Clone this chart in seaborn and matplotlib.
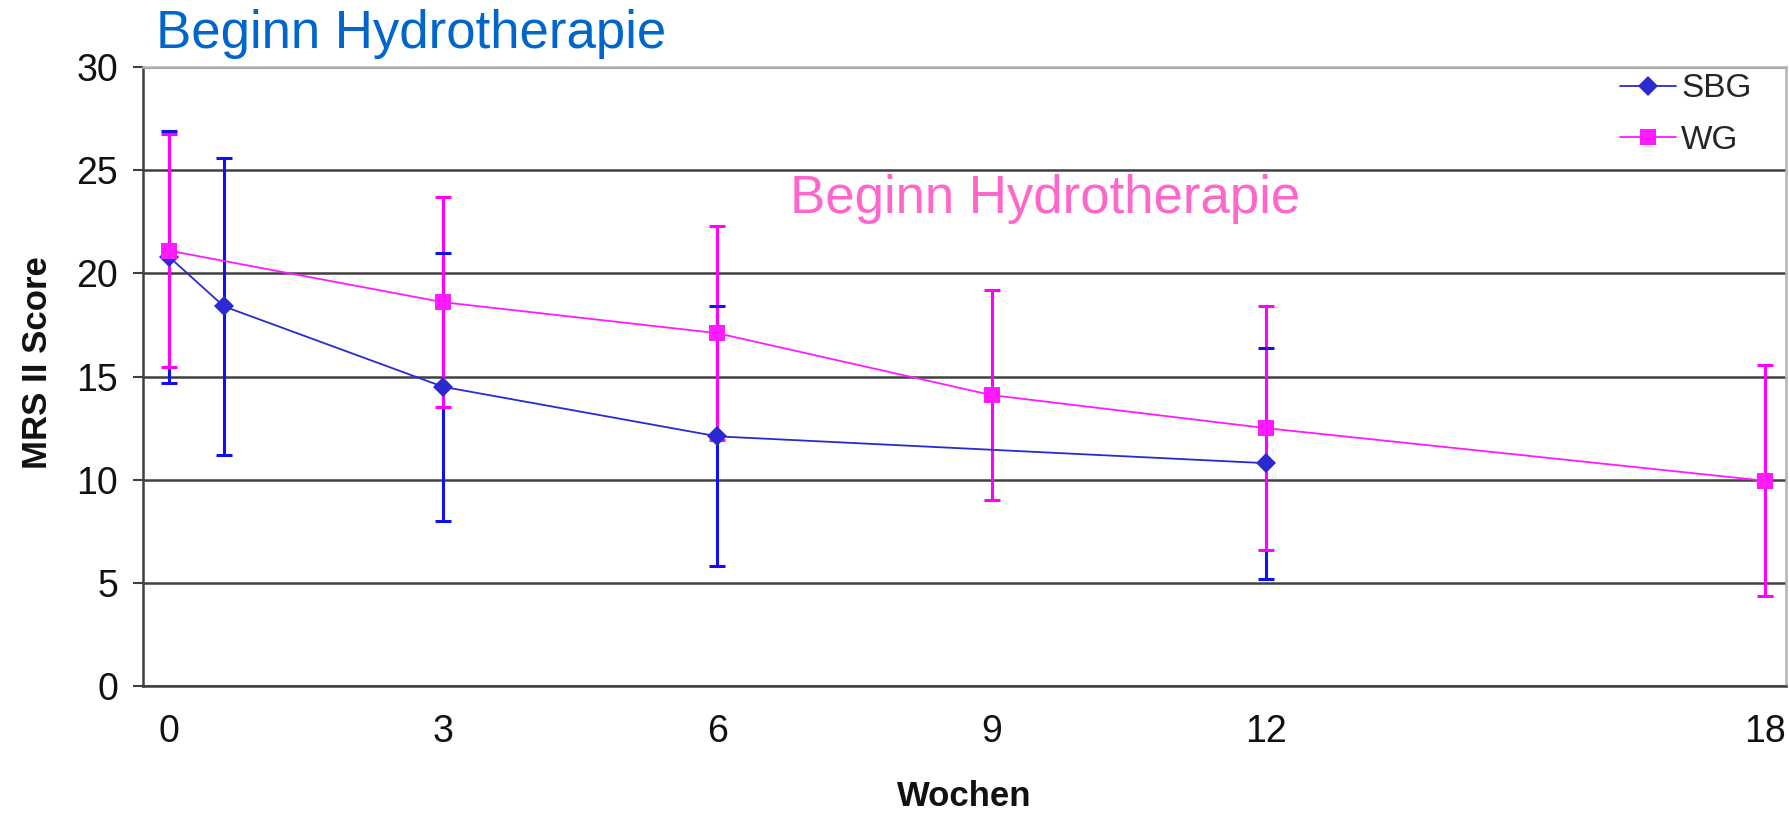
import numpy as np
import pandas as pd
import matplotlib
matplotlib.use('Agg')
import matplotlib.pyplot as plt
from matplotlib.ticker import NullLocator
import seaborn as sns

# data
sbg_weeks = [0, 0.6, 3, 6, 12]
sbg_mean = [20.8, 18.4, 14.5, 12.1, 10.8]
sbg_sd = [6.1, 7.2, 6.5, 6.3, 5.6]

wg_weeks = [0, 3, 6, 9, 12, 18]
wg_mean = [21.1, 18.6, 17.1, 14.1, 12.5, 9.95]
wg_sd = [5.65, 5.1, 5.2, 5.1, 5.9, 5.6]

week_ticks = [0, 3, 6, 9, 12, 18]
score_ticks = [0, 5, 10, 15, 20, 25, 30]

colors = {'SBG': '#2a2ad0', 'WG': '#ff1aff'}

df = pd.concat([
    pd.DataFrame({'Wochen': sbg_weeks, 'Score': sbg_mean, 'Gruppe': 'SBG'}),
    pd.DataFrame({'Wochen': wg_weeks, 'Score': wg_mean, 'Gruppe': 'WG'}),
], ignore_index=True)

sns.set_theme(style='white')
plt.rcParams['font.family'] = ['Liberation Sans', 'DejaVu Sans']

fig = plt.figure(figsize=(17.9, 8.17), dpi=100)
ax = fig.add_axes([0.0799, 0.1603, 0.918, 0.7577])

# error bars (magenta over blue, blue caps on top)
eb_sbg = ax.errorbar(sbg_weeks, sbg_mean, yerr=sbg_sd, fmt='none', ecolor='#1010f0',
                     elinewidth=2.2, capsize=5.5, capthick=2.2, zorder=3)
ax.errorbar(wg_weeks, wg_mean, yerr=wg_sd, fmt='none', ecolor='#ff00ff',
            elinewidth=2.2, capsize=5.5, capthick=2.2, zorder=4)
for cap in eb_sbg[1]:
    cap.set_zorder(5)
    cap.set_color('#1010a0')

sns.lineplot(data=df, x='Wochen', y='Score', hue='Gruppe', style='Gruppe',
             markers={'SBG': 'D', 'WG': 's'}, dashes=False, palette=colors,
             linewidth=1.3, markersize=10, markeredgewidth=0, ax=ax, legend=True)
for ln in ax.lines:
    ln.set_zorder(6)
    if ln.get_marker() == 's':
        ln.set_markersize(12)
        ln.set_zorder(7)

# piecewise axis: the 12 -> 18 gap is drawn a bit shorter, as in the source
def fwd(x):
    x = np.asarray(x, dtype=float)
    return np.where(x <= 12, x, 12 + (x - 12) * 0.91)

def inv(p):
    p = np.asarray(p, dtype=float)
    return np.where(p <= 12, p, 12 + (p - 12) / 0.91)

ax.set_xscale('function', functions=(fwd, inv))
ax.set_xlim(-0.285, 18.26)
ax.set_ylim(0, 30)
ax.set_xticks(week_ticks)
ax.set_xticklabels([str(w) for w in week_ticks])
ax.xaxis.set_minor_locator(NullLocator())
ax.set_yticks(score_ticks)

ax.tick_params(axis='x', length=0, pad=20, labelsize=27, labelcolor='#111111')
ax.tick_params(axis='y', left=True, length=7, width=1.5, color='#404040',
               pad=11, labelsize=27, labelcolor='#111111')

ax.yaxis.grid(True, color='#404040', linewidth=1.8)
ax.xaxis.grid(False)
for side in ['left', 'bottom']:
    ax.spines[side].set_color('#404040')
    ax.spines[side].set_linewidth(1.8)
for side in ['top', 'right']:
    ax.spines[side].set_color('#b4b4b4')
    ax.spines[side].set_linewidth(1.8)

ax.set_xlabel('Wochen', fontsize=25, fontweight='bold', labelpad=22, color='#111111')
ax.set_ylabel('MRS II Score', fontsize=25, fontweight='bold', color='#111111')
ax.yaxis.set_label_coords(-0.054, 0.522)

handles, labels = ax.get_legend_handles_labels()
for h in handles:
    if h.get_marker() == 's':
        h.set_markersize(12)
ax.legend(handles, labels, loc='upper right', bbox_to_anchor=(0.979, 0.99),
          frameon=False, fontsize=24, handlelength=1.7, handletextpad=0.15,
          labelspacing=0.62, borderpad=0, borderaxespad=0)

ax.text(6.8, 23.6, 'Beginn Hydrotherapie', color='#ff66cc', fontsize=38,
        ha='left', va='center')
fig.text(0.087, 0.958, 'Beginn Hydrotherapie', color='#0066cc', fontsize=38,
         ha='left', va='center')

fig.savefig('out.png', dpi=100)
